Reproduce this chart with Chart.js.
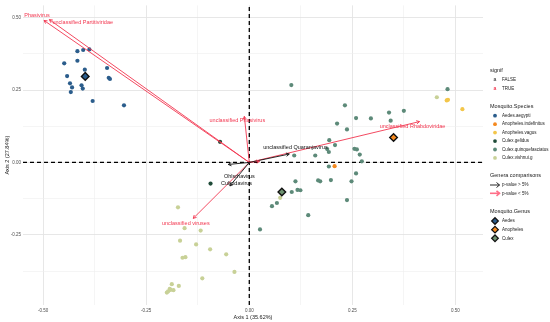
<!DOCTYPE html>
<html>
<head>
<meta charset="utf-8">
<script src="https://cdn.jsdelivr.net/npm/chart.js@4"></script>
<style>
body{margin:0;background:#fff}
</style>
</head>
<body>
<canvas id="myChart" width="550" height="322"></canvas>
<script>
// axis ranges
const xMin = -0.549, xMax = 0.567;
const yMin = -0.492, yMax = 0.542;

// species points
const speciesNames = ['Aedes.aegypti','Anopheles.indefinitus','Anopheles.vagus','Culex.gelidus','Culex.quinquefasciatus','Culex.vishnui.g'];
const speciesColors = ['#2b5d8c','#f4891f','#f3c64a','#1f4b38','#5d8a79','#c8d197'];

const aegyptiX = [-0.449,-0.417,-0.403,-0.388,-0.417,-0.399,-0.442,-0.435,-0.430,-0.433,-0.407,-0.404,-0.345,-0.341,-0.338,-0.380,-0.304];
const aegyptiY = [0.342,0.384,0.388,0.390,0.351,0.320,0.298,0.273,0.259,0.243,0.266,0.255,0.326,0.292,0.288,0.212,0.197];

const indefinitusX = [0.207];
const indefinitusY = [-0.013];

const vagusX = [0.479,0.482,0.517];
const vagusY = [0.214,0.216,0.184];

const gelidusX = [-0.071,-0.094];
const gelidusY = [0.071,-0.073];

const quinqueX = [0.102,0.481,0.232,0.339,0.375,0.259,0.295,0.343,0.213,0.237,0.194,0.208,0.189,0.193,0.255,0.261,0.268,0.273,0.109,0.160,0.193,0.259,0.112,0.167,0.172,0.198,0.248,0.103,0.117,0.124,0.237,0.143,0.067,0.055,0.026];
const quinqueY = [0.267,0.253,0.197,0.172,0.178,0.153,0.152,0.144,0.134,0.114,0.077,0.060,0.046,0.036,0.047,0.045,0.027,0.004,0.024,0.024,-0.014,-0.038,-0.065,-0.062,-0.065,-0.061,-0.065,-0.102,-0.095,-0.096,-0.130,-0.182,-0.140,-0.151,-0.231];

const vishnuiX = [0.455,0.075,-0.173,-0.157,-0.118,-0.168,-0.129,-0.095,-0.056,-0.162,-0.155,-0.036,-0.114,-0.188,-0.171,-0.193,-0.191,-0.184,-0.200,-0.197];
const vishnuiY = [0.225,-0.122,-0.155,-0.227,-0.235,-0.270,-0.283,-0.300,-0.317,-0.329,-0.327,-0.378,-0.400,-0.420,-0.426,-0.436,-0.440,-0.441,-0.449,-0.445];

// genus centroids
const genusNames = ['Aedes','Anopheles','Culex'];
const genusColors = ['#2b5d8c','#f4891f','#6e9270'];
const genusX = [-0.398,0.350,0.079];
const genusY = [0.297,0.086,-0.102];

// genera arrows
const arrowNames = ['Phasivirus','unclassified Partitiviridae','unclassified Phasivirus','unclassified Rhabdoviridae','unclassified viruses','','unclassified Quaranjavirus','Ohlsrhavirus','Culicidavirus'];
const arrowX = [-0.498,-0.485,-0.012,0.413,-0.136,0.025,0.097,-0.051,-0.047];
const arrowY = [0.490,0.493,0.159,0.141,-0.193,0.004,0.029,-0.007,-0.081];
const arrowSignif = [true,true,true,true,true,true,false,false,false];
const labelX = [-0.515,-0.404,-0.029,0.396,-0.154,0,0.112,-0.024,-0.031];
const labelY = [0.508,0.484,0.146,0.124,-0.212,0,0.050,-0.047,-0.074];

const RED = '#f2364f';
const BLACK = '#111111';
const FONT = '"Liberation Sans", Arial, sans-serif';

const pts = (xs, ys) => xs.map((x, i) => ({x: x, y: ys[i]}));
const speciesX = [aegyptiX, indefinitusX, vagusX, gelidusX, quinqueX, vishnuiX];
const speciesY = [aegyptiY, indefinitusY, vagusY, gelidusY, quinqueY, vishnuiY];

const datasets = [];
// dashed zero lines
datasets.push({type:'line', data:[{x:0,y:yMin},{x:0,y:yMax}], borderColor:'#000', borderWidth:1.3, borderDash:[4,3], pointRadius:0, order:10});
datasets.push({type:'line', data:[{x:xMin,y:0},{x:xMax,y:0}], borderColor:'#000', borderWidth:1.3, borderDash:[4,3], pointRadius:0, order:10});
// species
speciesNames.forEach((n, i) => {
  datasets.push({label:n, data:pts(speciesX[i], speciesY[i]), backgroundColor:speciesColors[i], borderWidth:0, pointRadius:2.1, order:8});
});
// arrows shafts
arrowNames.forEach((n, i) => {
  datasets.push({type:'line', label:n, data:[{x:0,y:0},{x:arrowX[i],y:arrowY[i]}], borderColor:arrowSignif[i] ? RED : BLACK, borderWidth:0.9, pointRadius:0, order:arrowSignif[i] ? 6 : 5});
});
// genus diamonds
genusNames.forEach((n, i) => {
  datasets.push({label:n, data:[{x:genusX[i], y:genusY[i]}], pointStyle:'rectRot', backgroundColor:genusColors[i], borderColor:'#111', borderWidth:1.4, pointRadius:3.8, order:2});
});

const isMajor = v => Math.abs(v * 4 - Math.round(v * 4)) < 1e-6;

const arrowPlugin = {
  id: 'arrowheads',
  afterDatasetsDraw(chart) {
    const ctx = chart.ctx, xs = chart.scales.x, ys = chart.scales.y;
    const ox = xs.getPixelForValue(0), oy = ys.getPixelForValue(0);
    ctx.save();
    arrowNames.forEach((n, i) => {
      const tx = xs.getPixelForValue(arrowX[i]), ty = ys.getPixelForValue(arrowY[i]);
      const a = Math.atan2(ty - oy, tx - ox), L = 3.5, w = 0.5;
      const col = arrowSignif[i] ? RED : BLACK;
      ctx.strokeStyle = col; ctx.lineWidth = 0.9;
      ctx.beginPath();
      ctx.moveTo(tx - L * Math.cos(a - w), ty - L * Math.sin(a - w));
      ctx.lineTo(tx, ty);
      ctx.lineTo(tx - L * Math.cos(a + w), ty - L * Math.sin(a + w));
      ctx.stroke();
    });
    ctx.font = '5.5px ' + FONT;
    ctx.textAlign = 'center'; ctx.textBaseline = 'middle';
    arrowNames.forEach((n, i) => {
      if (!n) return;
      ctx.fillStyle = arrowSignif[i] ? RED : BLACK;
      ctx.fillText(n, xs.getPixelForValue(labelX[i]), ys.getPixelForValue(labelY[i]));
    });
    ctx.restore();
  }
};

const legendPlugin = {
  id: 'sideLegend',
  afterDraw(chart) {
    const ctx = chart.ctx;
    const tx = 490, kx = 495, lx = 502;
    ctx.save();
    ctx.textBaseline = 'middle'; ctx.textAlign = 'left';
    const title = (t, y) => { ctx.font = '5.5px ' + FONT; ctx.fillStyle = '#1a1a1a'; ctx.fillText(t, tx, y); };
    const label = (t, y) => { ctx.font = '4.5px ' + FONT; ctx.fillStyle = '#1a1a1a'; ctx.fillText(t, lx, y); };

    title('signif', 70);
    [['FALSE', '#4d4d4d', 80], ['TRUE', RED, 88.3]].forEach(r => {
      ctx.font = 'bold 5px ' + FONT; ctx.fillStyle = r[1]; ctx.textAlign = 'center';
      ctx.fillText('a', kx, r[2]); ctx.textAlign = 'left';
      label(r[0], r[2]);
    });

    title('Mosquito.Species', 106);
    speciesNames.forEach((n, i) => {
      const y = 115.7 + i * 8.45;
      ctx.fillStyle = speciesColors[i];
      ctx.beginPath(); ctx.arc(kx, y, 1.9, 0, Math.PI * 2); ctx.fill();
      label(n, y);
    });

    title('Genera comparisons', 175.7);
    [['p-value > 5%', BLACK, 185], ['p-value < 5%', '#ff6f88', 193.3]].forEach(r => {
      const y = r[2];
      ctx.strokeStyle = r[1]; ctx.lineWidth = r[1] === BLACK ? 0.9 : 1.6;
      ctx.beginPath(); ctx.moveTo(490, y); ctx.lineTo(499.5, y); ctx.stroke();
      ctx.beginPath(); ctx.moveTo(496.5, y - 2.5); ctx.lineTo(499.5, y); ctx.lineTo(496.5, y + 2.5); ctx.stroke();
      label(r[0], y);
    });

    title('Mosquito.Genus', 211.7);
    genusNames.forEach((n, i) => {
      const y = 221 + i * 8.65;
      ctx.fillStyle = genusColors[i]; ctx.strokeStyle = '#111'; ctx.lineWidth = 1.3;
      ctx.beginPath(); ctx.moveTo(kx, y - 3.3); ctx.lineTo(kx + 3.3, y); ctx.lineTo(kx, y + 3.3); ctx.lineTo(kx - 3.3, y); ctx.closePath();
      ctx.fill(); ctx.stroke();
      label(n, y);
    });
    ctx.restore();
  }
};

const gridOpts = {
  color: c => isMajor(c.tick.value) ? '#e4e4e4' : '#efefef',
  lineWidth: c => isMajor(c.tick.value) ? 0.9 : 0.6,
  drawTicks: false
};

new Chart(document.getElementById('myChart').getContext('2d'), {
  type: 'scatter',
  data: {datasets: datasets},
  options: {
    responsive: false,
    devicePixelRatio: 1,
    animation: false,
    layout: {padding: {top: 3, right: 67, left: 0, bottom: 0}},
    plugins: {legend: {display: false}, tooltip: {enabled: false}},
    scales: {
      x: {
        type: 'linear', min: xMin, max: xMax,
        border: {display: false},
        grid: gridOpts,
        ticks: {stepSize: 0.125, includeBounds: false, padding: 3, autoSkip: false, maxRotation: 0,
          font: {family: FONT, size: 4.5}, color: '#4d4d4d',
          callback: v => isMajor(v) ? v.toFixed(2) : ''},
        title: {display: true, text: 'Axis 1 (35.62%)', font: {family: FONT, size: 5.5}, color: '#1a1a1a', padding: {top: 0, bottom: 1}},
        afterFit: s => { s.height = 17; }
      },
      y: {
        type: 'linear', min: yMin, max: yMax,
        border: {display: false},
        grid: gridOpts,
        ticks: {stepSize: 0.125, includeBounds: false, padding: 2, autoSkip: false,
          font: {family: FONT, size: 4.5}, color: '#4d4d4d',
          callback: v => isMajor(v) ? v.toFixed(2) : ''},
        title: {display: true, text: 'Axis 2 (27.84%)', font: {family: FONT, size: 5.5}, color: '#1a1a1a', padding: {top: 4, bottom: 0}},
        afterFit: s => { s.width = 23; }
      }
    }
  },
  plugins: [arrowPlugin, legendPlugin]
});
</script>
</body>
</html>
